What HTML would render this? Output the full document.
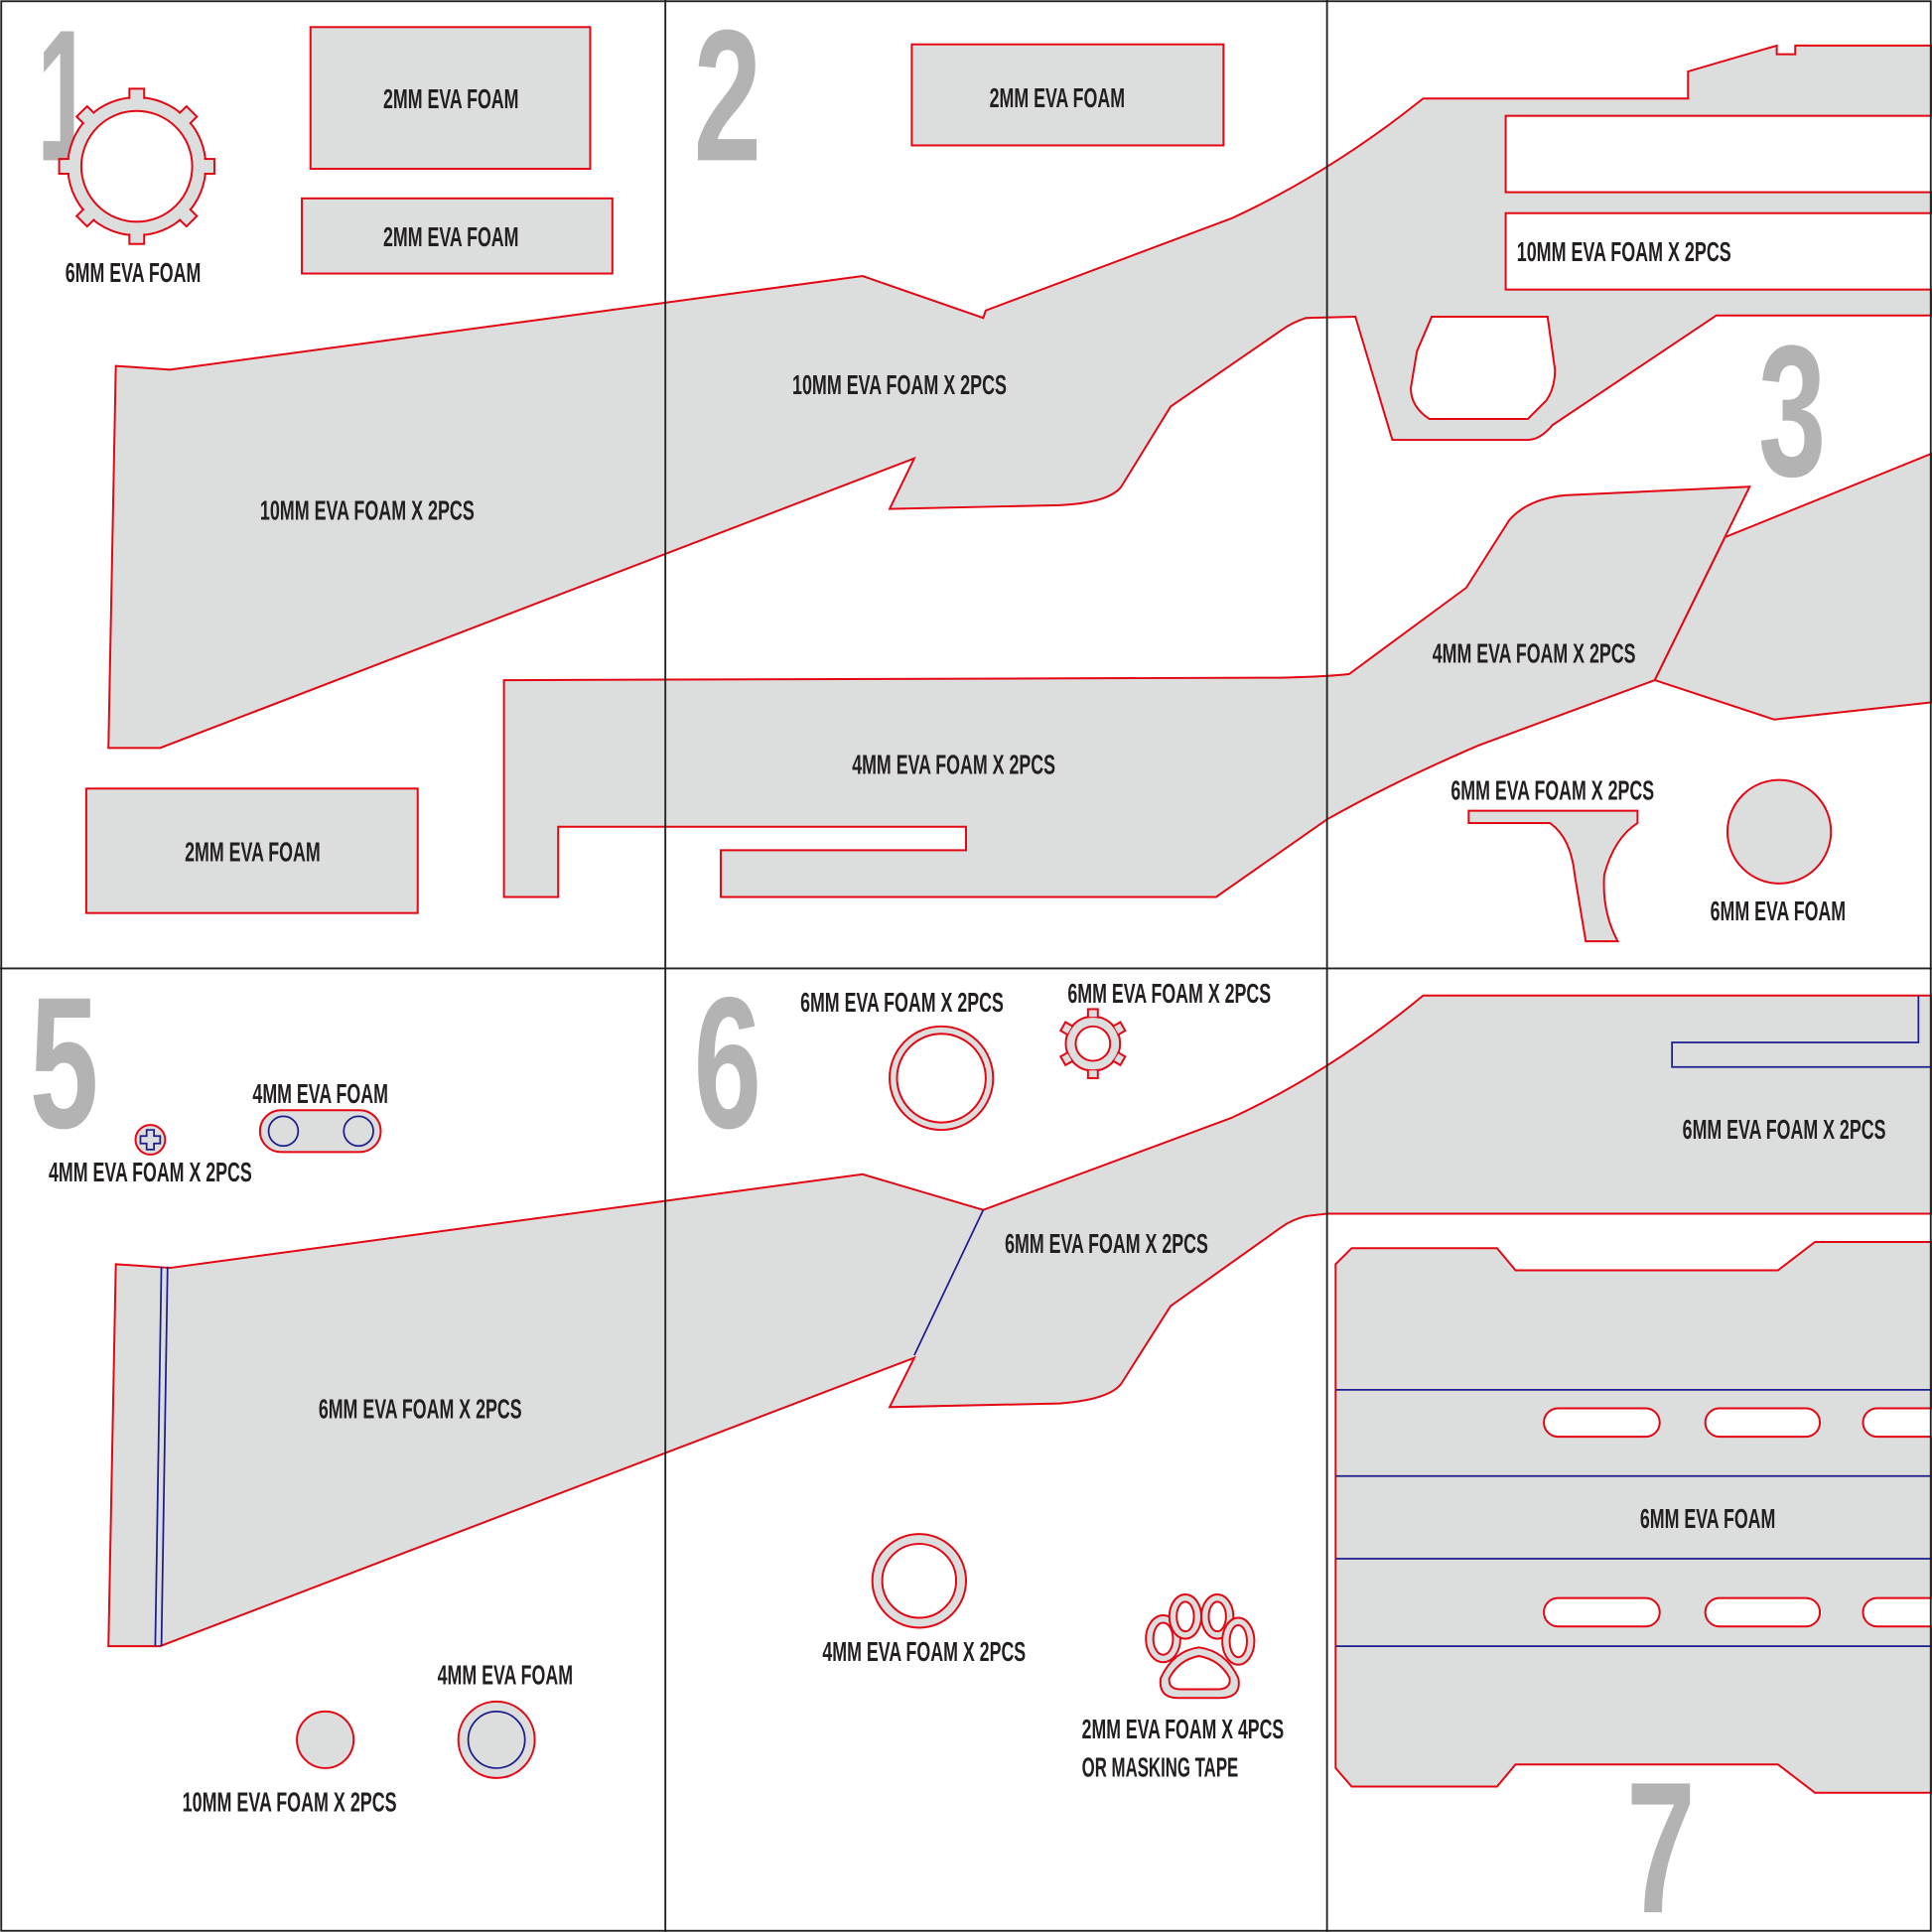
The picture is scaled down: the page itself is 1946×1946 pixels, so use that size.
<!DOCTYPE html>
<html><head><meta charset="utf-8"><style>
html,body{margin:0;padding:0;background:#fff}
svg{display:block}
text{font-family:"Liberation Sans Narrow","Liberation Sans",sans-serif;font-weight:bold;fill:#231f20}
.t{font-size:22px;text-anchor:middle}
.n{font-size:152px;fill:#b3b3b3;font-weight:bold}
.s{fill:#dcdddd;stroke:#e30613;stroke-width:1.6}
.w{fill:#fff;stroke:#e30613;stroke-width:1.6}
.b{fill:none;stroke:#1d1d8f;stroke-width:1.4}
.g{fill:none;stroke:#222;stroke-width:1.5}
</style></head><body>
<svg width="1946" height="1946" viewBox="0 0 1568 1568" xmlns="http://www.w3.org/2000/svg">
<rect x="0" y="0" width="1568" height="1568" fill="#fff"/>
<!-- big numbers -->
<text class="n" x="30" y="130" textLength="45" lengthAdjust="spacingAndGlyphs">1</text>
<text class="n" x="563" y="130" textLength="55" lengthAdjust="spacingAndGlyphs">2</text>
<text class="n" x="1427" y="386" textLength="55" lengthAdjust="spacingAndGlyphs">3</text>
<text class="n" x="24" y="915" textLength="56" lengthAdjust="spacingAndGlyphs">5</text>
<text class="n" x="563" y="915" textLength="55" lengthAdjust="spacingAndGlyphs">6</text>
<text class="n" x="1320" y="1552" textLength="56" lengthAdjust="spacingAndGlyphs">7</text>

<!-- panel 1 gear -->
<circle class="s" cx="111" cy="135" r="56"/>
<g class="s" transform="translate(111,135)">
<rect x="-6" y="-63" width="12" height="11"/><rect x="-6" y="-63" width="12" height="11" transform="rotate(45)"/><rect x="-6" y="-63" width="12" height="11" transform="rotate(90)"/><rect x="-6" y="-63" width="12" height="11" transform="rotate(135)"/><rect x="-6" y="-63" width="12" height="11" transform="rotate(180)"/><rect x="-6" y="-63" width="12" height="11" transform="rotate(225)"/><rect x="-6" y="-63" width="12" height="11" transform="rotate(270)"/><rect x="-6" y="-63" width="12" height="11" transform="rotate(315)"/>
</g>
<circle cx="111" cy="135" r="55" fill="#dcdddd"/>
<circle class="w" cx="111" cy="135" r="45"/>
<rect class="s" x="252" y="22" width="227" height="115"/>
<rect class="s" x="245" y="161" width="252" height="61"/>
<rect class="s" x="70" y="640" width="269" height="101"/>
<rect class="s" x="740" y="36" width="253" height="82"/>

<!-- top stock -->
<path class="s" d="M94,297 L138,300 L700,224 L798,258 L800,252 L1000,177 Q1080,140 1155,80 L1370,80 L1370,58 L1442,37 L1442,44 L1457,44 L1457,37 L1568,37 L1568,256 L1393,256 L1260,345 Q1250,357 1240,357 L1130,357 L1100,257 L1060,258 Q1048,262 1040,268 L950,330 L910,395 Q900,408 860,410 L722,413 L742,372 L130,607 L88,607 Z"/>
<path class="w" d="M1162,257 L1256,257 L1262,300 Q1262,315 1255,325 L1240,340 L1160,340 Q1145,330 1145,315 L1150,285 Z"/>
<rect class="w" x="1222" y="94" width="350" height="62"/>
<rect class="w" x="1222" y="173" width="350" height="62"/>

<!-- 4mm shape -->
<path class="s" d="M409,552 L1040,550 Q1080,549 1095,547 L1190,477 L1225,422 Q1240,405 1270,402 L1420,395 L1343,552 L1200,605 Q1130,635 1077,665 L987,728 L585,728 L585,690 L784,690 L784,671 L453,671 L453,728 L409,728 Z"/>
<path class="s" d="M1400,436 L1568,368 L1568,570 L1440,584 L1343,552 Z"/>
<path class="s" d="M1192,658 L1329,658 L1329,668 Q1310,680 1302,710 Q1300,740 1313,764 L1287,764 L1278,710 Q1275,680 1258,668 L1192,668 Z"/>
<circle class="s" cx="1444" cy="675" r="42"/>

<!-- bottom stock -->
<path class="s" d="M94,1026 L138,1029 L700,953 L798,982 L1000,907 Q1080,870 1155,808 L1568,808 L1568,985 L1077,985 L1060,987 Q1048,990 1040,996 L950,1060 L910,1123 Q900,1136 860,1139 L722,1142 L742,1102 L130,1336 L88,1336 Z"/>
<path class="b" d="M126,1336 L131,1028 M136,1028 L131,1336 M798,982 L742,1100 M1557,808 L1557,846 L1357,846 L1357,866 L1568,866"/>

<!-- handguard -->
<path class="s" d="M1097,1013 L1215,1013 L1230,1031 L1443,1031 L1473,1008 L1568,1008 L1568,1455 L1473,1455 L1443,1432 L1230,1432 L1215,1450 L1097,1450 L1084,1435 L1084,1026 Z"/>
<path class="b" d="M1084,1128 H1568 M1084,1198 H1568 M1084,1265 H1568 M1084,1336 H1568"/>
<g class="w"><rect x="1253" y="1143" width="94" height="23" rx="11.5"/><rect x="1384" y="1143" width="93" height="23" rx="11.5"/><rect x="1512" y="1143" width="70" height="23" rx="11.5"/>
<rect x="1253" y="1297" width="94" height="23" rx="11.5"/><rect x="1384" y="1297" width="93" height="23" rx="11.5"/><rect x="1512" y="1297" width="70" height="23" rx="11.5"/></g>

<!-- panel 5 items -->
<circle class="s" cx="122" cy="925" r="12"/>
<path class="b" d="M119,917 h6 v5 h5 v6 h-5 v5 h-6 v-5 h-5 v-6 h5 z"/>
<rect class="s" x="211" y="901" width="98" height="34" rx="17"/>
<circle class="b" cx="230" cy="918" r="12"/><circle class="b" cx="291" cy="918" r="12"/>
<circle class="s" cx="264" cy="1412" r="23"/>
<circle class="s" cx="403" cy="1412" r="31"/><circle class="b" cx="403" cy="1412" r="23"/>

<!-- panel 6 items -->
<circle class="s" cx="764" cy="875" r="42"/><circle class="w" cx="764" cy="875" r="36"/>
<circle class="s" cx="887" cy="847" r="22"/>
<g class="s" transform="translate(887,847)">
<rect x="-4" y="-28" width="8" height="7"/><rect x="-4" y="-28" width="8" height="7" transform="rotate(60)"/><rect x="-4" y="-28" width="8" height="7" transform="rotate(120)"/><rect x="-4" y="-28" width="8" height="7" transform="rotate(180)"/><rect x="-4" y="-28" width="8" height="7" transform="rotate(240)"/><rect x="-4" y="-28" width="8" height="7" transform="rotate(300)"/></g>
<circle cx="887" cy="847" r="21" fill="#dcdddd"/>
<circle class="w" cx="887" cy="847" r="14"/>
<circle class="s" cx="746" cy="1283" r="38"/><circle class="w" cx="746" cy="1283" r="30"/>
<g class="s"><ellipse cx="944" cy="1330" rx="14" ry="19"/><ellipse cx="962" cy="1312" rx="13" ry="18"/><ellipse cx="988" cy="1312" rx="13" ry="18"/><ellipse cx="1005" cy="1332" rx="13" ry="19"/><path d="M973,1337 Q995,1340 1005,1362 Q1008,1378 990,1378 L956,1378 Q940,1378 942,1362 Q952,1340 973,1337 Z"/></g>
<g class="w"><ellipse cx="944" cy="1330" rx="8" ry="13"/><ellipse cx="962" cy="1312" rx="7" ry="12"/><ellipse cx="988" cy="1312" rx="7" ry="12"/><ellipse cx="1005" cy="1332" rx="7" ry="13"/><path d="M973,1344 Q990,1347 998,1362 Q999,1371 988,1371 L958,1371 Q948,1371 949,1362 Q957,1347 973,1344 Z"/></g>

<!-- grid -->
<rect class="g" x="1" y="1" width="1566" height="1566"/>
<path class="g" d="M540,0 V1568 M1077,0 V1568 M0,786 H1568"/>

<!-- labels -->
<text class="t" x="108" y="229" textLength="110" lengthAdjust="spacingAndGlyphs">6MM EVA FOAM</text>
<text class="t" x="366" y="88" textLength="110" lengthAdjust="spacingAndGlyphs">2MM EVA FOAM</text>
<text class="t" x="366" y="200" textLength="110" lengthAdjust="spacingAndGlyphs">2MM EVA FOAM</text>
<text class="t" x="858" y="87" textLength="110" lengthAdjust="spacingAndGlyphs">2MM EVA FOAM</text>
<text class="t" x="1318" y="212" textLength="174" lengthAdjust="spacingAndGlyphs">10MM EVA FOAM X 2PCS</text>
<text class="t" x="730" y="320" textLength="174" lengthAdjust="spacingAndGlyphs">10MM EVA FOAM X 2PCS</text>
<text class="t" x="298" y="422" textLength="174" lengthAdjust="spacingAndGlyphs">10MM EVA FOAM X 2PCS</text>
<text class="t" x="1245" y="538" textLength="165" lengthAdjust="spacingAndGlyphs">4MM EVA FOAM X 2PCS</text>
<text class="t" x="774" y="628" textLength="165" lengthAdjust="spacingAndGlyphs">4MM EVA FOAM X 2PCS</text>
<text class="t" x="1260" y="649" textLength="165" lengthAdjust="spacingAndGlyphs">6MM EVA FOAM X 2PCS</text>
<text class="t" x="205" y="699" textLength="110" lengthAdjust="spacingAndGlyphs">2MM EVA FOAM</text>
<text class="t" x="1443" y="747" textLength="110" lengthAdjust="spacingAndGlyphs">6MM EVA FOAM</text>
<text class="t" x="732" y="821" textLength="165" lengthAdjust="spacingAndGlyphs">6MM EVA FOAM X 2PCS</text>
<text class="t" x="949" y="814" textLength="165" lengthAdjust="spacingAndGlyphs">6MM EVA FOAM X 2PCS</text>
<text class="t" x="260" y="895" textLength="110" lengthAdjust="spacingAndGlyphs">4MM EVA FOAM</text>
<text class="t" x="1448" y="924" textLength="165" lengthAdjust="spacingAndGlyphs">6MM EVA FOAM X 2PCS</text>
<text class="t" x="122" y="959" textLength="165" lengthAdjust="spacingAndGlyphs">4MM EVA FOAM X 2PCS</text>
<text class="t" x="898" y="1017" textLength="165" lengthAdjust="spacingAndGlyphs">6MM EVA FOAM X 2PCS</text>
<text class="t" x="341" y="1151" textLength="165" lengthAdjust="spacingAndGlyphs">6MM EVA FOAM X 2PCS</text>
<text class="t" x="1386" y="1240" textLength="110" lengthAdjust="spacingAndGlyphs">6MM EVA FOAM</text>
<text class="t" x="750" y="1348" textLength="165" lengthAdjust="spacingAndGlyphs">4MM EVA FOAM X 2PCS</text>
<text class="t" x="410" y="1367" textLength="110" lengthAdjust="spacingAndGlyphs">4MM EVA FOAM</text>
<text class="t" x="960" y="1411" textLength="164" lengthAdjust="spacingAndGlyphs">2MM EVA FOAM X 4PCS</text>
<text class="t" x="878" y="1442" style="text-anchor:start" textLength="127" lengthAdjust="spacingAndGlyphs">OR MASKING TAPE</text>
<text class="t" x="235" y="1470" textLength="174" lengthAdjust="spacingAndGlyphs">10MM EVA FOAM X 2PCS</text>
</svg>
</body></html>
